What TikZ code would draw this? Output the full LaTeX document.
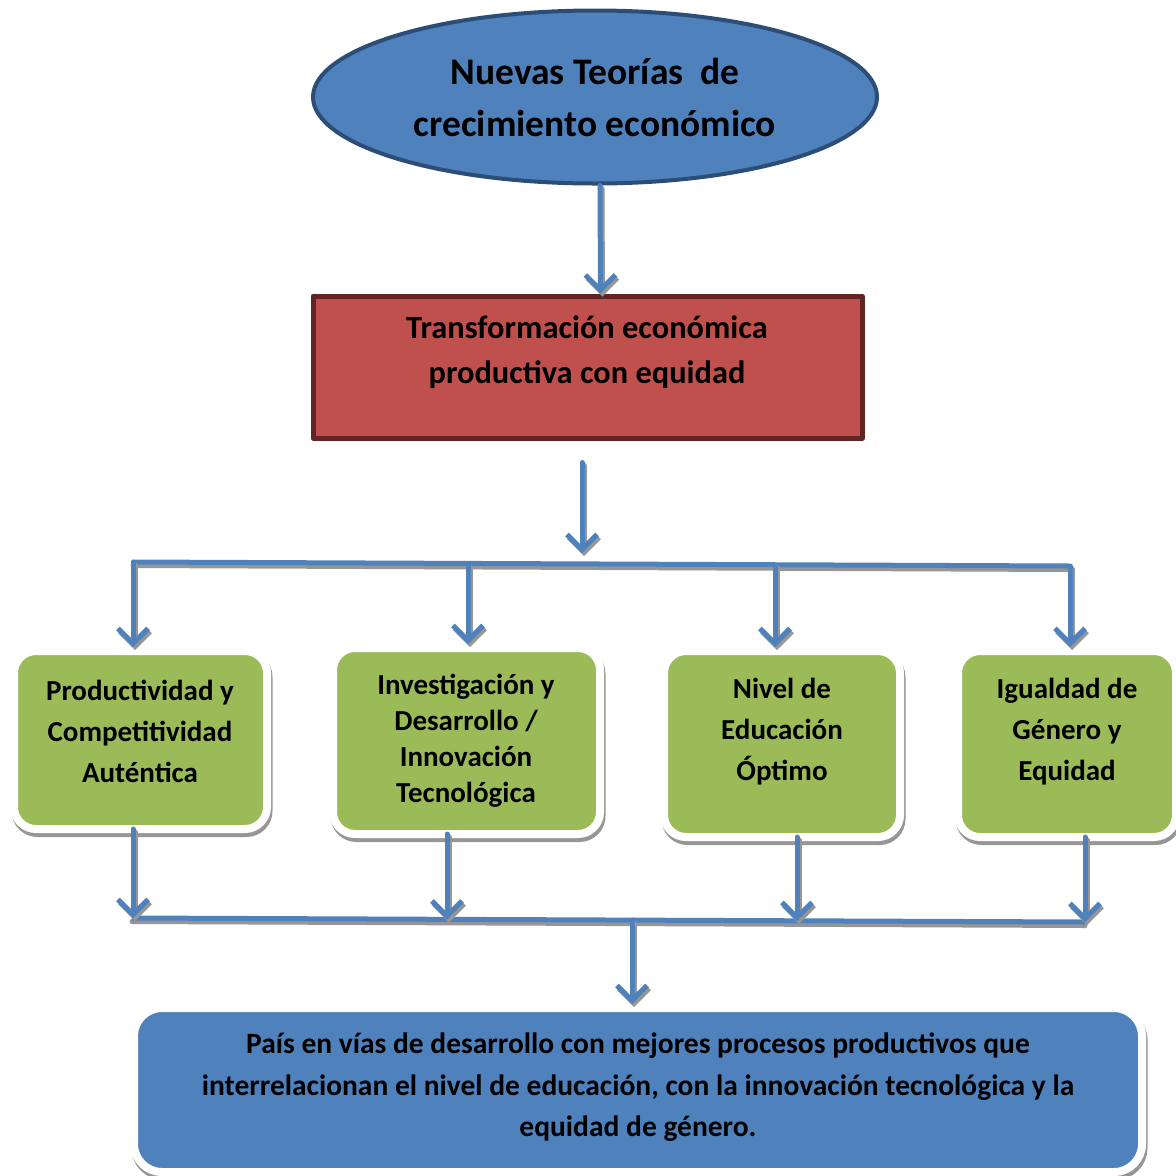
\documentclass[tikz,border=0pt]{standalone}
\usepackage{fontspec}
\setmainfont{Carlito}
\usetikzlibrary{arrows.meta}
\usetikzlibrary{shapes.geometric}
\definecolor{azul}{HTML}{4F81BD}
\definecolor{azulborde}{HTML}{2C4D75}
\definecolor{rojo}{HTML}{C0504D}
\definecolor{rojoborde}{HTML}{632523}
\definecolor{verde}{HTML}{9BBB59}
\definecolor{sombra}{HTML}{969696}

\begin{document}
\begin{tikzpicture}[line cap=round,line join=round,>={Straight Barb[length=15pt,width=30pt]},x=1pt,y=-1pt,
  flecha/.style={->,draw=azul,line width=5pt,preaction={->,draw=sombra,line width=5pt,transform canvas={xshift=2pt,yshift=-3pt}}},
  barra/.style={draw=azul,line width=5pt,line cap=butt,preaction={draw=sombra,line width=5pt,transform canvas={yshift=-3.5pt}}},
  caja/.style={rectangle,rounded corners=22pt,draw=white,line width=8pt,
    preaction={draw=sombra,fill=sombra,line width=8pt,transform canvas={xshift=1.5pt,yshift=-4pt}}},
  texto/.style={align=center,text=black,inner sep=0pt}]
\useasboundingbox (0,0) rectangle (1176,1176);
% cabecera
\node[ellipse,draw=azulborde,fill=azul,line width=4pt,minimum width=564pt,minimum height=173pt,
  texto,font=\fontsize{37.5}{52}\selectfont\bfseries] (teorias) at (595,97)
  {Nuevas Teorías~ de\\crecimiento económico};
\node[rectangle,draw=rojoborde,fill=rojo,line width=5pt,minimum width=549pt,minimum height=142pt] (trans) at (587.5,367) {};
\node[texto,font=\fontsize{32.4}{45}\selectfont\bfseries] (transtxt) at (587,352)
  {Transformación económica\\productiva con equidad};
% cajas verdes
\node[caja,fill=verde,minimum width=253pt,minimum height=178pt] (prod) at (140.5,740) {};
\node[caja,fill=verde,minimum width=267pt,minimum height=186pt] (inv) at (466.5,741) {};
\node[caja,fill=verde,minimum width=236pt,minimum height=186pt] (edu) at (782,744) {};
\node[caja,fill=verde,minimum width=218pt,minimum height=186pt] (gen) at (1067,744) {};
\node[texto,font=\fontsize{29}{41}\selectfont\bfseries] (prodtxt) at (140,731)
  {Productividad y\\Competitividad\\Auténtica};
\node[texto,font=\fontsize{29}{36}\selectfont\bfseries] (invtxt) at (466,741)
  {Investigación y\\Desarrollo /\\Innovación\\Tecnológica};
\node[texto,font=\fontsize{29}{41}\selectfont\bfseries] (edutxt) at (782,731.5)
  {Nivel de\\Educación\\Óptimo};
\node[texto,font=\fontsize{29}{41}\selectfont\bfseries] (gentxt) at (1067,731.5)
  {Igualdad de\\Género y\\Equidad};
% caja final
\node[caja,rounded corners=28pt,fill=azul,minimum width=1008pt,minimum height=164pt] (pais) at (638,1090) {};
\node[texto,font=\fontsize{29.5}{41.5}\selectfont\bfseries] (paistxt) at (638,1087.5)
  {País en vías de desarrollo con mejores procesos productivos que\\
   interrelacionan el nivel de educación, con la innovación tecnológica y la\\
   equidad de género.};
% barras
\coordinate (nudo) at (582,553);
\coordinate (barA) at (133,562);
\coordinate (r2) at (468,564.5);
\coordinate (r3) at (775,565);
\coordinate (barB) at (1070,566);
\coordinate (barC) at (132,918);
\coordinate (s1) at (133,918);
\coordinate (s2) at (447,919.5);
\coordinate (s0) at (632,920);
\coordinate (s3) at (797,921);
\coordinate (barD) at (1085,922);
\draw[barra] (barA) -- (barB);
\draw[barra] (barC) -- (barD);
% flechas
\draw[flecha] ([xshift=5pt]teorias.south) -- ([xshift=13pt]trans.north);
\draw[flecha] ([xshift=-5.5pt,yshift=-22pt]trans.south) -- (nudo);
\draw[flecha] (barA) -- (barA |- prod.north);
\draw[flecha] (r2) -- (r2 |- inv.north);
\draw[flecha] (r3) -- (r3 |- edu.north);
\draw[flecha] (barB) -- (barB |- gen.north);
\draw[flecha] ([yshift=4pt]prod.south -| s1) -- (s1);
\draw[flecha] ([yshift=4pt]inv.south -| s2) -- (s2);
\draw[flecha] ([yshift=4pt]edu.south -| s3) -- (s3);
\draw[flecha] ([yshift=4pt]gen.south -| barD) -- (barD);
\draw[flecha] (s0) -- (s0 |- pais.north);
\end{tikzpicture}
\end{document}
